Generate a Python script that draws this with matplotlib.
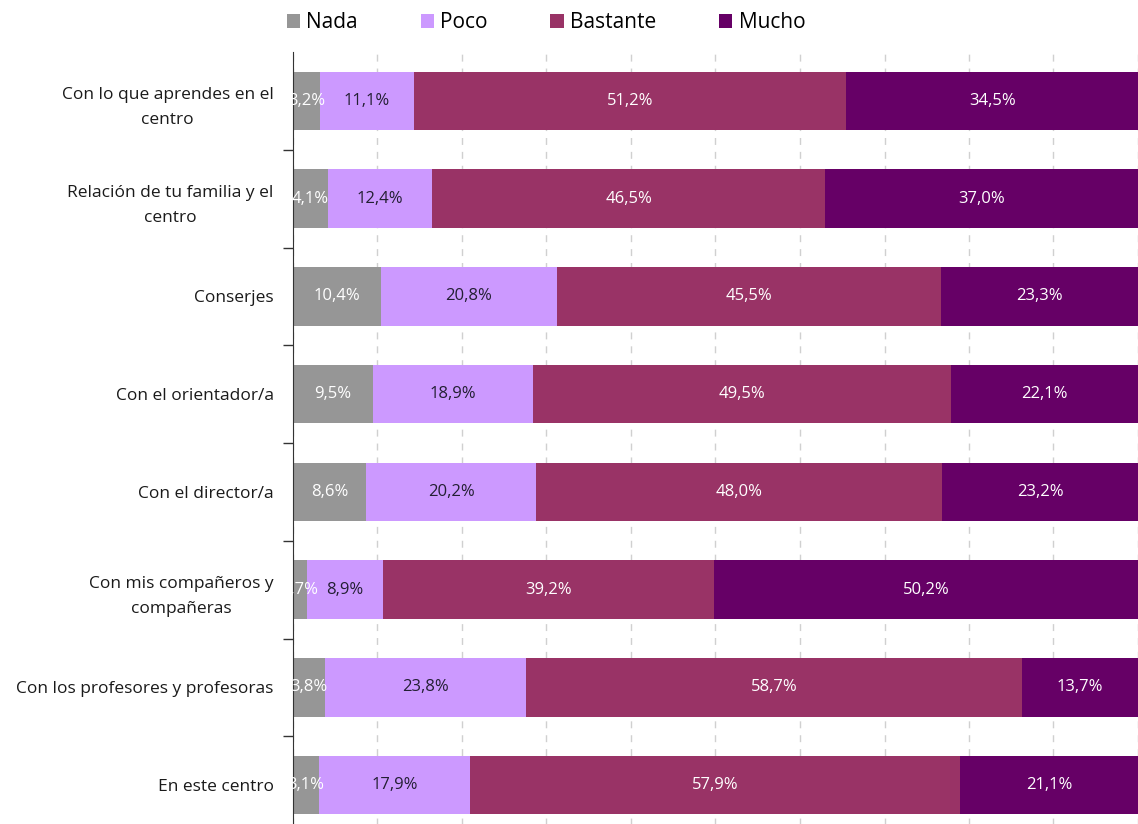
import matplotlib.pyplot as plt
import numpy as np

categories = [
    "Con lo que aprendes en el\ncentro",
    "Relación de tu familia y el\ncentro",
    "Conserjes",
    "Con el orientador/a",
    "Con el director/a",
    "Con mis compañeros y\ncompañeras",
    "Con los profesores y profesoras",
    "En este centro",
]
series = ["Nada", "Poco", "Bastante", "Mucho"]
nada = [3.2, 4.1, 10.4, 9.5, 8.6, 1.7, 3.8, 3.1]
poco = [11.1, 12.4, 20.8, 18.9, 20.2, 8.9, 23.8, 17.9]
bastante = [51.2, 46.5, 45.5, 49.5, 48.0, 39.2, 58.7, 57.9]
mucho = [34.5, 37.0, 23.3, 22.1, 23.2, 50.2, 13.7, 21.1]

colors = ["#969696", "#CC99FF", "#993366", "#660066"]
text_colors = ["white", "#231f33", "white", "white"]

plt.rcParams['font.family'] = ['Open Sans', 'DejaVu Sans']

fig = plt.figure(figsize=(11.38, 8.24), dpi=100)
# axes runs a little past the bottom edge, like the original
ax = fig.add_axes([293 / 1138, -10 / 824, 1 - 293 / 1138, 782 / 824])

y = np.arange(len(categories))
left = np.zeros(len(categories))
for name, vals, c, tc in zip(series, [nada, poco, bastante, mucho], colors, text_colors):
    vals = np.array(vals)
    ax.barh(y, vals, left=left, height=0.6, color=c, label=name, zorder=2)
    for yi, l, v in zip(y, left, vals):
        ax.text(l + v / 2, yi, f"{v:.1f}%".replace(".", ","), ha="center", va="center",
                color=tc, fontsize=12, zorder=3)
    left += vals

ax.set_xlim(0, 100)
ax.set_ylim(len(categories) - 0.5, -0.5)
ax.set_xticks(np.arange(0, 101, 10))
ax.set_xticklabels([])
ax.tick_params(axis="x", length=0)
ax.grid(axis="x", color="#d0d0d0", linestyle=(0, (5, 5)), linewidth=1, zorder=0)

ax.set_yticks(y)
ax.set_yticklabels(categories, fontsize=12.5, multialignment="center",
                   color="#1a1a1a", linespacing=1.75)
ax.tick_params(axis="y", which="major", length=0, pad=14)
ax.set_yticks(np.arange(0.5, len(categories) - 0.5, 1), minor=True)
ax.tick_params(axis="y", which="minor", length=7, width=1, color="#333333")

for s in ["top", "right", "bottom"]:
    ax.spines[s].set_visible(False)
ax.spines["left"].set_color("#333333")

handles, labels = ax.get_legend_handles_labels()
fig.legend(handles, labels, loc="center", bbox_to_anchor=(546 / 1138, 1 - 23 / 824),
           ncol=4, frameon=False, fontsize=15, handlelength=0.65, handleheight=0.65,
           handletextpad=0.3, columnspacing=3.0)

fig.savefig("out.png", dpi=100)
